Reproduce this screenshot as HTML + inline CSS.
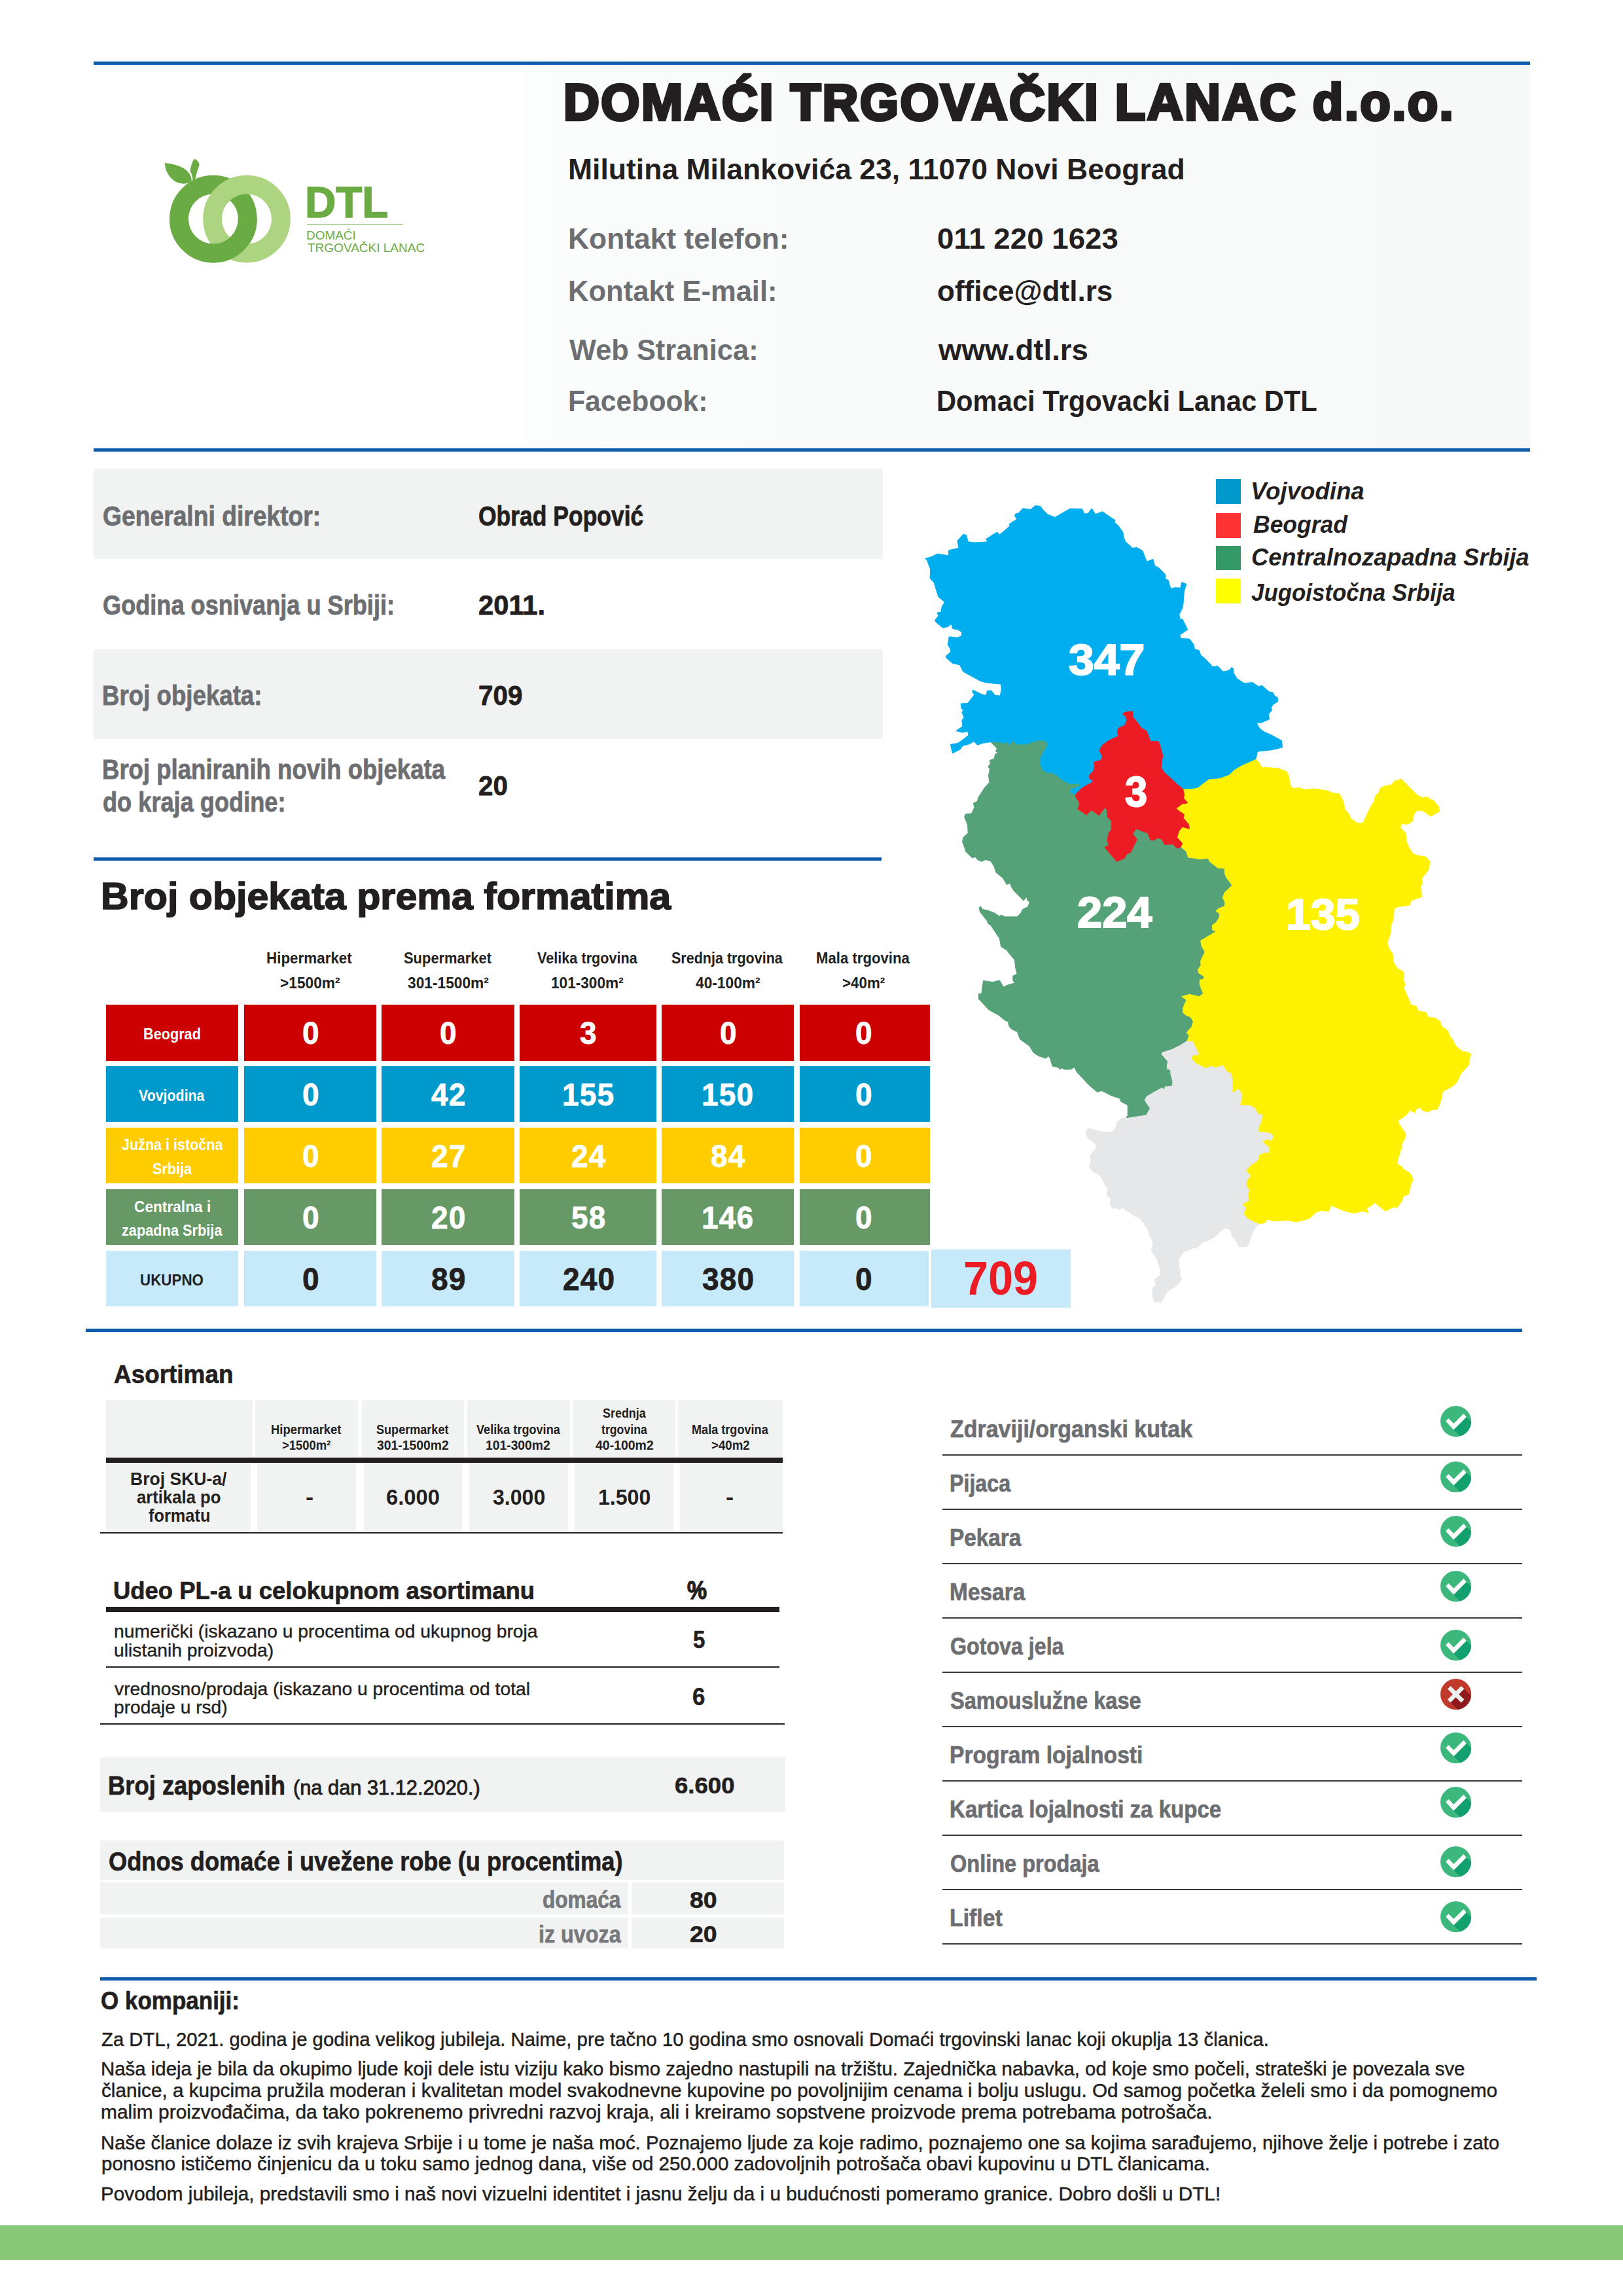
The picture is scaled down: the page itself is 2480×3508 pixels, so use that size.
<!DOCTYPE html>
<html lang="sr"><head><meta charset="utf-8"><title>Domaći trgovački lanac d.o.o.</title>
<style>
html,body{margin:0;padding:0;background:#fff}
#page{position:relative;width:2480px;height:3508px;overflow:hidden;background:#fff;font-family:"Liberation Sans",Arial,sans-serif}
.b{position:absolute}
.t{position:absolute;white-space:pre;line-height:1;transform-origin:0 0;font-kerning:normal}
svg{position:absolute;overflow:visible}
</style></head>
<body><div id="page">
<div class="b" style="left:143.0px;top:94.0px;width:2195.0px;height:5.0px;background:#0b5cab;"></div>
<div class="b" style="left:803.0px;top:99.0px;width:1535.0px;height:586.0px;background:linear-gradient(90deg,#fcfdfd 0%,#fafbfb 10%,#f7f8f8 100%);"></div>
<div class="b" style="left:143.0px;top:685.0px;width:2195.0px;height:5.0px;background:#0b5cab;"></div>
<div class="b" style="left:469.0px;top:341.5px;width:147.0px;height:1.7px;background:#6aab43;"></div>
<div class="b" style="left:143.0px;top:716.0px;width:1206.3px;height:138.0px;background:#f1f2f2;"></div>
<div class="b" style="left:143.0px;top:991.5px;width:1206.3px;height:137.8px;background:#f1f2f2;"></div>
<div class="b" style="left:143.0px;top:1310.0px;width:1204.0px;height:5.0px;background:#0b5cab;"></div>
<div class="b" style="left:162.0px;top:1535.2px;width:202.0px;height:85.4px;background:#cc0000;"></div>
<div class="b" style="left:373.0px;top:1535.2px;width:202.0px;height:85.4px;background:#cc0000;"></div>
<div class="b" style="left:583.0px;top:1535.2px;width:203.0px;height:85.4px;background:#cc0000;"></div>
<div class="b" style="left:794.0px;top:1535.2px;width:209.0px;height:85.4px;background:#cc0000;"></div>
<div class="b" style="left:1011.0px;top:1535.2px;width:202.0px;height:85.4px;background:#cc0000;"></div>
<div class="b" style="left:1222.0px;top:1535.2px;width:199.0px;height:85.4px;background:#cc0000;"></div>
<div class="b" style="left:162.0px;top:1629.2px;width:202.0px;height:84.8px;background:#0099cc;"></div>
<div class="b" style="left:373.0px;top:1629.2px;width:202.0px;height:84.8px;background:#0099cc;"></div>
<div class="b" style="left:583.0px;top:1629.2px;width:203.0px;height:84.8px;background:#0099cc;"></div>
<div class="b" style="left:794.0px;top:1629.2px;width:209.0px;height:84.8px;background:#0099cc;"></div>
<div class="b" style="left:1011.0px;top:1629.2px;width:202.0px;height:84.8px;background:#0099cc;"></div>
<div class="b" style="left:1222.0px;top:1629.2px;width:199.0px;height:84.8px;background:#0099cc;"></div>
<div class="b" style="left:162.0px;top:1723.2px;width:202.0px;height:84.9px;background:#ffcc00;"></div>
<div class="b" style="left:373.0px;top:1723.2px;width:202.0px;height:84.9px;background:#ffcc00;"></div>
<div class="b" style="left:583.0px;top:1723.2px;width:203.0px;height:84.9px;background:#ffcc00;"></div>
<div class="b" style="left:794.0px;top:1723.2px;width:209.0px;height:84.9px;background:#ffcc00;"></div>
<div class="b" style="left:1011.0px;top:1723.2px;width:202.0px;height:84.9px;background:#ffcc00;"></div>
<div class="b" style="left:1222.0px;top:1723.2px;width:199.0px;height:84.9px;background:#ffcc00;"></div>
<div class="b" style="left:162.0px;top:1817.2px;width:202.0px;height:84.9px;background:#669966;"></div>
<div class="b" style="left:373.0px;top:1817.2px;width:202.0px;height:84.9px;background:#669966;"></div>
<div class="b" style="left:583.0px;top:1817.2px;width:203.0px;height:84.9px;background:#669966;"></div>
<div class="b" style="left:794.0px;top:1817.2px;width:209.0px;height:84.9px;background:#669966;"></div>
<div class="b" style="left:1011.0px;top:1817.2px;width:202.0px;height:84.9px;background:#669966;"></div>
<div class="b" style="left:1222.0px;top:1817.2px;width:199.0px;height:84.9px;background:#669966;"></div>
<div class="b" style="left:162.0px;top:1911.2px;width:202.0px;height:84.9px;background:#c7eafb;"></div>
<div class="b" style="left:373.0px;top:1911.2px;width:202.0px;height:84.9px;background:#c7eafb;"></div>
<div class="b" style="left:583.0px;top:1911.2px;width:203.0px;height:84.9px;background:#c7eafb;"></div>
<div class="b" style="left:794.0px;top:1911.2px;width:209.0px;height:84.9px;background:#c7eafb;"></div>
<div class="b" style="left:1011.0px;top:1911.2px;width:202.0px;height:84.9px;background:#c7eafb;"></div>
<div class="b" style="left:1222.0px;top:1911.2px;width:197.0px;height:84.9px;background:#c7eafb;"></div>
<div class="b" style="left:1423.4px;top:1908.7px;width:213.1px;height:89.3px;background:#c7eafb;"></div>
<div class="b" style="left:131.0px;top:2030.0px;width:2194.5px;height:5.0px;background:#0b5cab;"></div>
<div class="b" style="left:1858.0px;top:732.0px;width:37.6px;height:38.0px;background:#0099cc;"></div>
<div class="b" style="left:1858.0px;top:784.4px;width:37.6px;height:37.4px;background:#ff3333;"></div>
<div class="b" style="left:1858.0px;top:833.7px;width:37.6px;height:37.5px;background:#339966;"></div>
<div class="b" style="left:1858.0px;top:884.2px;width:37.6px;height:37.4px;background:#ffff00;"></div>
<div class="b" style="left:162.0px;top:2138.6px;width:223.5px;height:87.9px;background:#f1f2f2;"></div>
<div class="b" style="left:162.0px;top:2234.5px;width:220.5px;height:105.1px;background:#f1f2f2;"></div>
<div class="b" style="left:390.2px;top:2138.6px;width:157.0px;height:87.9px;background:#f1f2f2;"></div>
<div class="b" style="left:393.2px;top:2234.5px;width:151.0px;height:105.1px;background:#f1f2f2;"></div>
<div class="b" style="left:552.6px;top:2138.6px;width:156.4px;height:87.9px;background:#f1f2f2;"></div>
<div class="b" style="left:555.6px;top:2234.5px;width:150.4px;height:105.1px;background:#f1f2f2;"></div>
<div class="b" style="left:713.6px;top:2138.6px;width:157.0px;height:87.9px;background:#f1f2f2;"></div>
<div class="b" style="left:716.6px;top:2234.5px;width:151.0px;height:105.1px;background:#f1f2f2;"></div>
<div class="b" style="left:875.3px;top:2138.6px;width:156.4px;height:87.9px;background:#f1f2f2;"></div>
<div class="b" style="left:878.3px;top:2234.5px;width:150.4px;height:105.1px;background:#f1f2f2;"></div>
<div class="b" style="left:1036.3px;top:2138.6px;width:159.7px;height:87.9px;background:#f1f2f2;"></div>
<div class="b" style="left:1039.3px;top:2234.5px;width:156.7px;height:105.1px;background:#f1f2f2;"></div>
<div class="b" style="left:162.0px;top:2226.5px;width:1034.0px;height:8.0px;background:#231f20;"></div>
<div class="b" style="left:153.3px;top:2340.6px;width:1042.7px;height:2.0px;background:#231f20;"></div>
<div class="b" style="left:162.0px;top:2455.4px;width:1029.4px;height:8.0px;background:#231f20;"></div>
<div class="b" style="left:162.0px;top:2546.0px;width:1029.4px;height:2.0px;background:#231f20;"></div>
<div class="b" style="left:153.3px;top:2633.2px;width:1046.0px;height:2.0px;background:#231f20;"></div>
<div class="b" style="left:153.3px;top:2684.6px;width:1046.7px;height:83.2px;background:#f1f2f2;"></div>
<div class="b" style="left:153.3px;top:2811.7px;width:1044.5px;height:59.9px;background:#f1f2f2;"></div>
<div class="b" style="left:153.3px;top:2876.3px;width:806.5px;height:48.5px;background:#f1f2f2;"></div>
<div class="b" style="left:964.5px;top:2876.3px;width:233.3px;height:48.5px;background:#f1f2f2;"></div>
<div class="b" style="left:153.3px;top:2929.5px;width:806.5px;height:47.9px;background:#f1f2f2;"></div>
<div class="b" style="left:964.5px;top:2929.5px;width:233.3px;height:47.9px;background:#f1f2f2;"></div>
<div class="b" style="left:1439.6px;top:2221.7px;width:886.0px;height:2.0px;background:#3a3739;"></div>
<div class="b" style="left:1439.6px;top:2304.7px;width:886.0px;height:2.0px;background:#3a3739;"></div>
<div class="b" style="left:1439.6px;top:2387.7px;width:886.0px;height:2.0px;background:#3a3739;"></div>
<div class="b" style="left:1439.6px;top:2470.7px;width:886.0px;height:2.0px;background:#3a3739;"></div>
<div class="b" style="left:1439.6px;top:2553.7px;width:886.0px;height:2.0px;background:#3a3739;"></div>
<div class="b" style="left:1439.6px;top:2636.7px;width:886.0px;height:2.0px;background:#3a3739;"></div>
<div class="b" style="left:1439.6px;top:2719.7px;width:886.0px;height:2.0px;background:#3a3739;"></div>
<div class="b" style="left:1439.6px;top:2802.7px;width:886.0px;height:2.0px;background:#3a3739;"></div>
<div class="b" style="left:1439.6px;top:2885.7px;width:886.0px;height:2.0px;background:#3a3739;"></div>
<div class="b" style="left:1439.6px;top:2968.7px;width:886.0px;height:2.0px;background:#3a3739;"></div>
<div class="b" style="left:153.0px;top:3020.7px;width:2194.6px;height:5.2px;background:#0b5cab;"></div>
<div class="b" style="left:0.0px;top:3400.0px;width:2480.0px;height:53.2px;background:#88c878;"></div>
<svg style="left:0;top:0" width="800" height="500" viewBox="0 0 800 500"><defs><clipPath id="lowhalf"><rect x="200" y="334.6" width="300" height="120"/></clipPath></defs><circle cx="325.9" cy="334.6" r="52.4" fill="none" stroke="#6aab43" stroke-width="28.8"/><circle cx="377.0" cy="334.6" r="52.4" fill="none" stroke="#add581" stroke-width="28.8"/><circle cx="325.9" cy="334.6" r="52.4" fill="none" stroke="#6aab43" stroke-width="28.8" clip-path="url(#lowhalf)"/><path d="M251.71,249.05 C269.57,250.40 291.76,257.18 292.87,275.97 L292.37,276.59 C278.20,287.99 253.56,275.67 251.71,249.05 Z" fill="#6aab43"/><path d="M290.52,261.49 C291.45,254.72 293.60,247.32 296.38,243.01 C299.15,242.39 304.08,247.32 304.70,251.33 C303.46,256.57 299.77,264.57 298.53,272.89 L294.53,276.16 C294.53,270.74 292.99,265.19 290.52,261.49 Z" fill="#6aab43"/></svg>
<svg style="left:1400px;top:760px" width="900" height="1260" viewBox="0 0 900 1260"><polygon points="524.7,1109.1 517.1,1117.3 513.3,1124.0 508.4,1139.8 505.1,1144.4 500.3,1145.2 492.1,1143.8 488.1,1134.9 482.6,1128.9 480.7,1120.8 477.2,1117.3 471.8,1116.7 464.5,1121.3 460.1,1126.8 447.4,1134.9 437.4,1138.1 429.2,1146.5 422.2,1147.1 417.6,1149.8 408.6,1152.5 400.8,1165.2 401.3,1176.9 404.0,1183.7 402.7,1188.6 405.9,1195.1 397.2,1204.8 383.7,1213.5 374.2,1229.8 370.1,1228.4 364.2,1229.8 361.2,1218.9 361.2,1207.5 366.9,1204.8 364.2,1195.1 372.3,1188.6 373.4,1179.6 371.5,1175.6 367.4,1162.0 362.5,1156.6 359.3,1149.8 362.0,1140.3 360.6,1134.9 357.1,1129.5 353.3,1116.5 349.8,1113.2 347.1,1107.8 340.3,1100.2 330.0,1096.4 328.1,1092.9 320.0,1089.3 315.4,1084.7 309.9,1088.3 306.4,1085.5 299.6,1086.1 296.4,1079.3 297.5,1071.2 291.0,1065.8 292.9,1056.3 287.4,1048.1 283.4,1040.0 281.9,1036.5 268.4,1028.4 264.3,1022.4 267.0,1014.8 266.2,1005.3 276.0,992.6 271.1,985.0 261.6,978.2 258.9,970.1 262.4,963.9 284.7,969.3 299.6,970.1 306.3,960.6 306.9,953.8 314.5,948.4 321.3,947.6 321.3,947.6 351.1,943.0 356.5,933.5 348.4,921.3 351.1,915.1 363.3,907.8 375.5,901.0 378.2,903.7 379.5,899.6 390.4,898.3 390.9,892.3 387.7,879.3 387.7,875.2 382.8,873.9 382.3,868.4 383.6,861.7 374.1,850.8 375.5,847.3 390.4,842.7 403.9,835.9 413.4,829.9 413.4,829.9 422.9,830.5 428.3,841.3 433.0,850.8 430.8,852.2 422.7,853.5 421.4,857.6 428.1,864.4 441.7,871.2 450.4,868.4 458.0,870.6 468.8,867.1 475.6,877.1 482.4,879.3 483.7,890.1 484.5,908.6 491.8,903.1 495.9,906.4 499.2,914.0 495.9,928.1 509.5,928.1 517.6,932.2 523.0,941.1 529.8,943.0 528.4,952.5 524.4,962.0 524.4,968.7 539.3,970.1 546.9,974.7 543.4,983.7 539.3,981.8 533.9,982.3 529.8,983.7 539.8,993.1 539.8,1001.3 531.2,1001.8 524.4,1005.3 523.0,1012.1 517.6,1017.5 513.5,1018.9 504.6,1028.4 511.6,1036.5 505.4,1044.7 505.4,1052.8 510.0,1058.2 507.3,1063.6 509.5,1074.5 499.2,1079.9 504.6,1085.3 501.3,1094.8 506.8,1101.6 524.4,1109.7" fill="#e6e7e8" stroke="#e6e7e8" stroke-width="1" stroke-linejoin="round"/>
<polygon points="519.0,399.5 524.4,405.8 527.9,412.5 542.0,413.1 552.8,413.9 565.0,418.0 569.1,424.7 571.3,438.3 574.5,444.5 585.4,443.7 593.5,446.4 609.8,445.1 628.7,448.3 636.9,451.8 646.4,452.7 652.6,464.0 655.3,477.6 660.7,482.5 664.0,490.6 674.8,497.9 683.0,497.1 693.8,473.5 699.2,465.4 701.9,455.4 706.8,451.8 708.7,445.1 715.5,441.0 726.3,439.1 730.4,433.7 741.3,430.2 764.3,453.7 772.4,458.6 781.9,457.8 784.6,461.3 790.1,462.7 798.2,472.2 799.5,479.8 786.5,487.1 772.4,478.1 764.3,479.0 760.2,484.4 758.9,494.4 751.3,499.3 741.3,498.7 739.9,504.7 748.0,512.8 748.6,523.7 752.1,533.2 758.9,544.0 764.3,546.7 779.2,549.4 784.6,556.2 783.3,568.4 779.2,573.8 772.4,582.0 773.8,588.7 771.1,594.2 772.4,610.4 764.3,613.1 756.2,615.9 754.8,622.6 737.2,625.3 730.4,628.1 729.1,645.7 726.3,649.7 725.0,664.7 719.6,680.9 723.6,691.8 727.7,695.8 729.1,709.4 734.5,718.9 744.0,724.3 745.3,732.4 744.0,735.1 746.7,743.3 745.3,750.1 756.2,775.3 764.3,777.6 767.0,784.4 779.2,787.1 781.9,793.9 792.8,795.2 800.9,800.7 802.3,807.4 811.7,814.2 815.8,823.7 819.9,829.1 823.9,837.3 834.8,846.8 839.7,846.8 848.3,850.8 845.6,856.2 844.3,867.1 832.1,880.6 826.7,892.8 819.9,899.6 804.4,907.8 802.8,917.2 800.9,924.0 796.3,934.9 787.3,935.7 782.7,938.9 773.8,936.8 769.7,932.2 763.8,934.9 762.1,940.3 754.8,936.2 749.4,943.0 742.6,948.4 736.6,951.1 736.6,955.2 741.3,962.0 748.0,972.8 746.7,979.6 741.3,989.1 742.6,991.8 739.9,998.6 735.8,1012.1 735.0,1018.9 741.3,1021.6 745.3,1027.0 754.8,1032.5 759.4,1041.9 756.2,1048.7 752.1,1065.0 744.0,1067.7 742.6,1074.5 738.5,1079.9 734.5,1085.3 730.4,1084.0 716.9,1090.2 700.6,1077.7 695.2,1082.6 688.4,1085.3 690.6,1092.9 683.0,1090.2 669.4,1093.5 655.9,1090.7 634.2,1082.1 630.1,1090.7 619.3,1089.4 611.1,1092.1 600.3,1102.1 580.0,1107.0 567.8,1104.3 547.4,1105.7 536.6,1102.9 532.5,1108.4 524.4,1109.7 524.4,1109.7 506.8,1101.6 501.3,1094.8 504.6,1085.3 499.2,1079.9 509.5,1074.5 507.3,1063.6 510.0,1058.2 505.4,1052.8 505.4,1044.7 511.6,1036.5 504.6,1028.4 513.5,1018.9 517.6,1017.5 523.0,1012.1 524.4,1005.3 531.2,1001.8 539.8,1001.3 539.8,993.1 529.8,983.7 533.9,982.3 539.3,981.8 543.4,983.7 546.9,974.7 539.3,970.1 524.4,968.7 524.4,962.0 528.4,952.5 529.8,943.0 523.0,941.1 517.6,932.2 509.5,928.1 495.9,928.1 499.2,914.0 495.9,906.4 491.8,903.1 484.5,908.6 483.7,890.1 482.4,879.3 475.6,877.1 468.8,867.1 458.0,870.6 450.4,868.4 441.7,871.2 428.1,864.4 421.4,857.6 422.7,853.5 430.8,852.2 433.0,850.8 428.3,841.3 422.9,830.5 413.4,829.9 413.4,829.9 416.1,821.8 412.1,817.5 420.2,808.8 422.4,800.7 418.9,794.7 412.1,792.0 406.7,787.1 406.7,780.3 409.4,773.6 412.1,768.1 403.9,762.3 417.5,758.2 432.2,761.7 437.6,758.2 434.9,751.4 432.2,743.3 432.2,736.5 438.4,735.1 439.0,732.4 430.8,727.0 429.5,721.6 434.1,714.8 433.6,708.0 440.3,694.5 434.9,685.0 433.6,676.9 456.6,663.3 452.0,661.9 451.2,653.8 458.0,648.4 462.0,641.6 462.8,636.2 456.6,632.1 462.0,627.2 470.2,624.0 471.0,618.6 467.4,611.8 470.2,603.7 481.8,592.8 472.9,580.6 470.2,573.8 470.2,567.6 460.7,567.1 447.1,556.2 445.8,552.2 433.8,553.5 414.8,550.8 412.1,541.3 403.9,534.5 403.9,534.5 406.7,528.6 398.5,519.6 401.2,510.1 406.7,503.4 417.5,506.1 416.1,499.3 408.0,489.8 409.4,484.4 401.2,479.0 397.2,474.9 406.7,468.1 414.8,466.8 408.8,460.0 409.4,453.2 407.5,445.1 407.5,445.1 420.0,445.1 430.8,442.9 436.3,438.3 447.1,430.2 463.4,428.8 478.3,423.4 485.1,416.6 495.9,409.8 519.0,399.5" fill="#fff200" stroke="#fff200" stroke-width="1" stroke-linejoin="round"/>
<polygon points="113.9,373.6 127.4,373.6 132.8,375.5 138.3,373.6 142.3,377.4 148.6,371.4 152.4,376.8 168.1,376.8 184.3,371.4 195.2,370.9 201.2,375.5 200.6,379.5 193.8,390.8 189.8,399.0 189.8,407.1 193.8,416.6 200.6,420.1 208.7,420.7 216.9,426.1 225.0,432.9 235.9,437.5 249.4,436.9 250.8,441.0 235.9,446.4 235.3,450.5 243.5,453.7 243.5,453.7 244.0,458.6 248.1,464.0 249.4,469.5 246.7,476.2 253.5,480.3 260.3,485.2 267.0,478.1 271.1,479.8 279.2,485.7 288.7,473.5 291.4,477.6 292.2,488.4 298.2,493.9 298.2,507.4 294.1,512.8 292.2,523.7 294.1,531.8 287.9,534.5 306.3,556.2 318.5,551.3 321.3,545.4 328.0,542.1 332.1,533.2 337.5,522.3 330.7,514.2 336.2,506.1 345.7,510.1 353.8,512.8 357.9,523.7 363.3,523.7 368.7,520.4 375.5,522.3 379.5,530.5 391.7,529.6 398.5,535.9 403.9,534.5 403.9,534.5 412.1,541.3 414.8,550.8 433.8,553.5 445.8,552.2 447.1,556.2 460.7,567.1 470.2,567.6 470.2,573.8 472.9,580.6 481.8,592.8 470.2,603.7 467.4,611.8 471.0,618.6 470.2,624.0 462.0,627.2 456.6,632.1 462.8,636.2 462.0,641.6 458.0,648.4 451.2,653.8 452.0,661.9 456.6,663.3 433.6,676.9 434.9,685.0 440.3,694.5 433.6,708.0 434.1,714.8 429.5,721.6 430.8,727.0 439.0,732.4 438.4,735.1 432.2,736.5 432.2,743.3 434.9,751.4 437.6,758.2 432.2,761.7 417.5,758.2 403.9,762.3 412.1,768.1 409.4,773.6 406.7,780.3 406.7,787.1 412.1,792.0 418.9,794.7 422.4,800.7 420.2,808.8 412.1,817.5 416.1,821.8 413.4,829.9 413.4,829.9 403.9,835.9 390.4,842.7 375.5,847.3 374.1,850.8 383.6,861.7 382.3,868.4 382.8,873.9 387.7,875.2 387.7,879.3 390.9,892.3 390.4,898.3 379.5,899.6 378.2,903.7 375.5,901.0 363.3,907.8 351.1,915.1 348.4,921.3 356.5,933.5 351.1,943.0 321.3,947.6 321.3,947.6 323.2,944.3 323.2,928.6 312.3,922.7 311.8,918.6 298.2,914.0 283.3,906.4 276.5,908.6 263.0,896.9 245.3,877.9 241.8,870.6 235.9,873.9 226.4,873.9 222.3,871.7 219.6,873.9 216.3,870.6 208.2,869.0 204.7,857.1 202.0,853.5 197.9,857.1 187.1,853.5 178.9,848.1 173.5,838.6 158.6,827.8 154.5,816.4 146.4,812.9 142.3,808.8 140.4,801.2 134.2,798.0 126.1,791.2 111.2,783.0 95.4,766.3 95.4,758.2 99.8,758.2 102.5,738.4 116.6,740.6 127.4,737.9 133.4,747.9 141.0,744.6 150.5,741.9 147.8,737.9 147.8,731.1 154.0,728.4 151.8,718.9 150.5,706.7 142.3,697.2 138.3,691.8 129.6,686.3 127.4,674.1 119.3,661.9 113.9,653.8 109.8,651.1 108.4,647.0 97.6,633.5 96.2,626.7 98.1,624.5 101.7,629.4 108.4,630.8 119.3,634.8 126.9,639.7 130.1,638.1 135.6,640.8 154.5,640.8 160.0,634.8 162.7,629.4 170.8,625.3 173.5,618.0 170.3,616.4 168.6,610.4 164.0,615.9 155.9,607.7 149.1,600.9 145.0,594.2 143.7,589.3 138.3,591.5 132.8,582.0 121.5,572.5 119.3,564.3 113.9,555.7 105.7,553.5 99.8,556.2 93.5,553.5 90.8,549.4 85.4,550.8 75.9,541.3 72.7,531.8 70.5,526.4 71.8,519.6 79.2,512.8 78.6,500.6 73.7,488.4 75.4,483.8 84.6,483.0 88.9,473.5 87.3,467.3 93.5,464.0 94.9,458.6 104.4,443.7 111.7,435.6 110.6,424.7 112.5,415.2 109.8,411.2 113.3,407.1 112.5,401.7 119.3,399.0 120.6,392.2 125.2,390.4 121.5,387.7 123.4,383.6 113.9,373.6" fill="#55a278" stroke="#55a278" stroke-width="1" stroke-linejoin="round"/>
<polygon points="113.9,373.6 101.7,375.5 93.5,378.2 88.1,372.8 81.3,376.8 71.0,379.5 67.2,385.0 55.6,390.9 52.3,377.4 63.7,375.5 73.2,368.7 80.0,363.3 78.6,357.3 70.5,359.2 61.0,356.5 71.0,349.7 69.9,340.2 73.2,336.2 69.9,328.8 71.8,324.8 69.1,322.6 68.3,315.0 78.6,314.5 88.9,301.5 86.2,298.2 86.2,294.1 100.3,300.9 107.1,302.3 108.4,295.5 114.7,295.0 120.6,302.3 128.2,303.1 130.1,294.1 129.6,285.2 108.4,283.3 98.1,280.6 71.8,266.2 66.4,255.7 55.6,253.5 46.1,245.3 45.5,242.1 51.5,237.2 52.9,233.1 48.3,225.0 50.2,212.8 62.4,214.2 69.1,212.0 69.9,206.0 63.7,202.0 55.6,200.6 53.7,193.3 48.8,197.4 40.7,199.3 29.8,190.3 29.0,187.1 33.9,181.1 32.0,176.2 38.0,174.9 39.3,166.7 43.4,160.0 33.9,151.8 27.1,130.1 21.1,123.4 21.7,109.8 16.3,95.4 13.6,93.5 23.0,90.8 32.5,86.2 49.6,88.9 49.6,80.8 65.1,77.3 62.9,66.4 71.8,56.4 76.7,57.5 79.2,67.8 89.5,69.1 109.3,67.8 106.5,63.7 123.4,52.9 127.4,56.9 135.6,50.2 143.1,43.4 142.3,40.7 154.0,33.1 150.5,28.5 151.8,24.9 156.7,23.9 162.7,16.8 174.9,18.4 182.2,12.5 189.8,13.6 193.8,19.0 200.6,25.8 212.0,30.4 222.3,24.4 235.3,17.1 253.5,17.6 257.0,25.2 262.4,24.4 268.4,16.8 273.8,25.8 284.7,21.7 298.2,31.2 304.2,34.7 303.1,38.0 309.1,43.4 315.8,52.9 317.2,61.0 319.9,67.8 330.7,77.3 337.5,76.5 345.7,81.3 352.4,98.1 361.9,94.3 364.6,104.4 370.1,107.1 380.9,117.9 380.9,125.2 385.0,126.1 389.0,139.6 395.8,137.7 403.9,138.3 405.8,129.6 412.9,132.3 409.4,143.7 408.0,162.7 406.7,169.4 401.8,178.9 403.1,186.5 406.7,185.7 414.8,202.0 403.1,210.1 403.9,215.5 417.5,216.1 420.0,219.1 424.1,225.0 425.4,231.8 432.2,233.7 434.9,241.3 440.3,245.3 449.8,254.8 452.5,258.9 460.7,257.5 468.8,266.2 478.3,264.3 481.8,259.7 484.5,261.6 485.1,268.4 489.9,276.5 501.3,284.1 513.5,282.5 523.0,288.7 528.4,287.4 539.3,296.9 545.2,298.2 547.4,303.1 552.8,306.3 552.8,311.8 545.2,316.6 542.5,321.3 543.4,325.3 538.7,330.7 539.3,338.9 528.4,343.8 520.3,344.8 524.4,352.4 531.2,357.9 540.6,361.9 558.3,371.4 559.6,381.7 550.1,384.4 539.3,386.3 521.7,388.2 519.0,399.5 519.0,399.5 495.9,409.8 485.1,416.6 478.3,423.4 463.4,428.8 447.1,430.2 436.3,438.3 430.8,442.9 420.0,445.1 407.5,445.1 407.5,445.1 398.5,438.3 390.4,430.2 379.5,420.7 374.1,412.5 375.5,401.7 376.8,394.9 372.8,379.5 370.1,372.8 357.9,372.8 352.4,357.3 344.3,352.4 337.5,342.9 331.3,336.2 330.2,326.7 319.9,328.0 315.3,330.7 320.4,334.8 321.8,341.0 318.5,348.4 309.1,352.4 307.2,357.9 309.1,364.6 294.1,371.4 284.7,378.2 280.0,386.3 280.6,388.1 284.7,396.3 281.9,401.7 271.1,404.4 272.5,409.8 271.1,418.0 265.1,423.4 264.3,428.8 271.1,434.2 253.5,443.7 243.5,453.7 243.5,453.7 235.3,450.5 235.9,446.4 250.8,441.0 249.4,436.9 235.9,437.5 225.0,432.9 216.9,426.1 208.7,420.7 200.6,420.1 193.8,416.6 189.8,407.1 189.8,399.0 193.8,390.8 200.6,379.5 201.2,375.5 195.2,370.9 184.3,371.4 168.1,376.8 152.4,376.8 148.6,371.4 142.3,377.4 138.3,373.6 132.8,375.5 127.4,373.6 113.9,373.6" fill="#00aeef" stroke="#00aeef" stroke-width="1" stroke-linejoin="round"/>
<polygon points="243.5,453.7 253.5,443.7 271.1,434.2 264.3,428.8 265.1,423.4 271.1,418.0 272.5,409.8 271.1,404.4 281.9,401.7 284.7,396.3 280.6,388.1 280.0,386.3 284.7,378.2 294.1,371.4 309.1,364.6 307.2,357.9 309.1,352.4 318.5,348.4 321.8,341.0 320.4,334.8 315.3,330.7 319.9,328.0 330.2,326.7 331.3,336.2 337.5,342.9 344.3,352.4 352.4,357.3 357.9,372.8 370.1,372.8 372.8,379.5 376.8,394.9 375.5,401.7 374.1,412.5 379.5,420.7 390.4,430.2 398.5,438.3 407.5,445.1 407.5,445.1 409.4,453.2 408.8,460.0 414.8,466.8 406.7,468.1 397.2,474.9 401.2,479.0 409.4,484.4 408.0,489.8 416.1,499.3 417.5,506.1 406.7,503.4 401.2,510.1 398.5,519.6 406.7,528.6 403.9,534.5 403.9,534.5 398.5,535.9 391.7,529.6 379.5,530.5 375.5,522.3 368.7,520.4 363.3,523.7 357.9,523.7 353.8,512.8 345.7,510.1 336.2,506.1 330.7,514.2 337.5,522.3 332.1,533.2 328.0,542.1 321.3,545.4 318.5,551.3 306.3,556.2 287.9,534.5 294.1,531.8 292.2,523.7 294.1,512.8 298.2,507.4 298.2,493.9 292.2,488.4 291.4,477.6 288.7,473.5 279.2,485.7 271.1,479.8 267.0,478.1 260.3,485.2 253.5,480.3 246.7,476.2 249.4,469.5 248.1,464.0 244.0,458.6 243.5,453.7" fill="#ed1c24" stroke="#ed1c24" stroke-width="1" stroke-linejoin="round"/></svg>
<svg style="left:2200.9px;top:2147.9px" width="47.2" height="47.2" viewBox="0 0 1 1"><defs><clipPath id="c2171"><circle cx="0.5" cy="0.5" r="0.5"/></clipPath></defs><circle cx="0.5" cy="0.5" r="0.5" fill="#3cb87c"/><g clip-path="url(#c2171)"><polygon points="0.429,0.774 0.842,0.36 1.3,0.82 0.9,1.25" fill="#13a06f"/><polygon points="0.171,0.5 0.263,0.4 0.429,0.571 0.75,0.255 0.842,0.36 0.429,0.774" fill="#fff"/></g></svg>
<svg style="left:2200.9px;top:2233.4px" width="47.2" height="47.2" viewBox="0 0 1 1"><defs><clipPath id="c2257"><circle cx="0.5" cy="0.5" r="0.5"/></clipPath></defs><circle cx="0.5" cy="0.5" r="0.5" fill="#3cb87c"/><g clip-path="url(#c2257)"><polygon points="0.429,0.774 0.842,0.36 1.3,0.82 0.9,1.25" fill="#13a06f"/><polygon points="0.171,0.5 0.263,0.4 0.429,0.571 0.75,0.255 0.842,0.36 0.429,0.774" fill="#fff"/></g></svg>
<svg style="left:2200.9px;top:2316.3px" width="47.2" height="47.2" viewBox="0 0 1 1"><defs><clipPath id="c2339"><circle cx="0.5" cy="0.5" r="0.5"/></clipPath></defs><circle cx="0.5" cy="0.5" r="0.5" fill="#3cb87c"/><g clip-path="url(#c2339)"><polygon points="0.429,0.774 0.842,0.36 1.3,0.82 0.9,1.25" fill="#13a06f"/><polygon points="0.171,0.5 0.263,0.4 0.429,0.571 0.75,0.255 0.842,0.36 0.429,0.774" fill="#fff"/></g></svg>
<svg style="left:2200.9px;top:2399.7px" width="47.2" height="47.2" viewBox="0 0 1 1"><defs><clipPath id="c2423"><circle cx="0.5" cy="0.5" r="0.5"/></clipPath></defs><circle cx="0.5" cy="0.5" r="0.5" fill="#3cb87c"/><g clip-path="url(#c2423)"><polygon points="0.429,0.774 0.842,0.36 1.3,0.82 0.9,1.25" fill="#13a06f"/><polygon points="0.171,0.5 0.263,0.4 0.429,0.571 0.75,0.255 0.842,0.36 0.429,0.774" fill="#fff"/></g></svg>
<svg style="left:2200.9px;top:2489.8px" width="47.2" height="47.2" viewBox="0 0 1 1"><defs><clipPath id="c2513"><circle cx="0.5" cy="0.5" r="0.5"/></clipPath></defs><circle cx="0.5" cy="0.5" r="0.5" fill="#3cb87c"/><g clip-path="url(#c2513)"><polygon points="0.429,0.774 0.842,0.36 1.3,0.82 0.9,1.25" fill="#13a06f"/><polygon points="0.171,0.5 0.263,0.4 0.429,0.571 0.75,0.255 0.842,0.36 0.429,0.774" fill="#fff"/></g></svg>
<svg style="left:2200.9px;top:2565.4px" width="47.2" height="47.2" viewBox="0 0 1 1"><defs><clipPath id="c2589"><circle cx="0.5" cy="0.5" r="0.5"/></clipPath></defs><circle cx="0.5" cy="0.5" r="0.5" fill="#c0392b"/><g clip-path="url(#c2589)"><polygon points="0.5,0.6 0.67,0.77 0.77,0.67 0.6,0.5 0.77,0.33 1.3,0.86 0.86,1.3 0.33,0.77" fill="#8f1a1d"/><path d="M0.28,0.28 L0.72,0.72 M0.72,0.28 L0.28,0.72" stroke="#ecf0f1" stroke-width="0.14" fill="none"/></g></svg>
<svg style="left:2200.9px;top:2647.0px" width="47.2" height="47.2" viewBox="0 0 1 1"><defs><clipPath id="c2670"><circle cx="0.5" cy="0.5" r="0.5"/></clipPath></defs><circle cx="0.5" cy="0.5" r="0.5" fill="#3cb87c"/><g clip-path="url(#c2670)"><polygon points="0.429,0.774 0.842,0.36 1.3,0.82 0.9,1.25" fill="#13a06f"/><polygon points="0.171,0.5 0.263,0.4 0.429,0.571 0.75,0.255 0.842,0.36 0.429,0.774" fill="#fff"/></g></svg>
<svg style="left:2200.9px;top:2729.7px" width="47.2" height="47.2" viewBox="0 0 1 1"><defs><clipPath id="c2753"><circle cx="0.5" cy="0.5" r="0.5"/></clipPath></defs><circle cx="0.5" cy="0.5" r="0.5" fill="#3cb87c"/><g clip-path="url(#c2753)"><polygon points="0.429,0.774 0.842,0.36 1.3,0.82 0.9,1.25" fill="#13a06f"/><polygon points="0.171,0.5 0.263,0.4 0.429,0.571 0.75,0.255 0.842,0.36 0.429,0.774" fill="#fff"/></g></svg>
<svg style="left:2200.9px;top:2821.2px" width="47.2" height="47.2" viewBox="0 0 1 1"><defs><clipPath id="c2844"><circle cx="0.5" cy="0.5" r="0.5"/></clipPath></defs><circle cx="0.5" cy="0.5" r="0.5" fill="#3cb87c"/><g clip-path="url(#c2844)"><polygon points="0.429,0.774 0.842,0.36 1.3,0.82 0.9,1.25" fill="#13a06f"/><polygon points="0.171,0.5 0.263,0.4 0.429,0.571 0.75,0.255 0.842,0.36 0.429,0.774" fill="#fff"/></g></svg>
<svg style="left:2200.9px;top:2904.6px" width="47.2" height="47.2" viewBox="0 0 1 1"><defs><clipPath id="c2928"><circle cx="0.5" cy="0.5" r="0.5"/></clipPath></defs><circle cx="0.5" cy="0.5" r="0.5" fill="#3cb87c"/><g clip-path="url(#c2928)"><polygon points="0.429,0.774 0.842,0.36 1.3,0.82 0.9,1.25" fill="#13a06f"/><polygon points="0.171,0.5 0.263,0.4 0.429,0.571 0.75,0.255 0.842,0.36 0.429,0.774" fill="#fff"/></g></svg>
<span class="t" style="font-size:77.76px;font-weight:bold;color:#231f20;letter-spacing:2.5px;-webkit-text-stroke:4.5px #231f20;left:860.7px;top:118.1px;transform:scaleX(0.9781);">DOMAĆI TRGOVAČKI LANAC d.o.o.</span>
<span class="t" style="font-size:44.04px;font-weight:bold;color:#231f20;left:868.0px;top:237.3px;transform:scaleX(1.0111);">Milutina Milankovića 23, 11070 Novi Beograd</span>
<span class="t" style="font-size:44.04px;font-weight:bold;color:#6d6e71;left:868.0px;top:343.4px;transform:scaleX(1.0074);">Kontakt telefon:</span>
<span class="t" style="font-size:44.04px;font-weight:bold;color:#231f20;left:1431.5px;top:343.4px;transform:scaleX(1.0373);">011 220 1623</span>
<span class="t" style="font-size:44.04px;font-weight:bold;color:#6d6e71;left:868.0px;top:423.3px;transform:scaleX(0.9897);">Kontakt E-mail:</span>
<span class="t" style="font-size:44.04px;font-weight:bold;color:#231f20;left:1431.5px;top:423.3px;transform:scaleX(1.0014);">office@dtl.rs</span>
<span class="t" style="font-size:44.04px;font-weight:bold;color:#6d6e71;left:870.0px;top:512.7px;transform:scaleX(0.9856);">Web Stranica:</span>
<span class="t" style="font-size:44.04px;font-weight:bold;color:#231f20;left:1433.5px;top:512.7px;transform:scaleX(1.0362);">www.dtl.rs</span>
<span class="t" style="font-size:44.04px;font-weight:bold;color:#6d6e71;left:868.1px;top:591.0px;transform:scaleX(0.9695);">Facebook:</span>
<span class="t" style="font-size:44.04px;font-weight:bold;color:#231f20;left:1430.6px;top:591.0px;transform:scaleX(0.9473);">Domaci Trgovacki Lanac DTL</span>
<span class="t" style="font-size:65.99px;font-weight:bold;color:#6aab43;-webkit-text-stroke:1.6px #6aab43;left:465.8px;top:276.2px;transform:scaleX(0.9931);">DTL</span>
<span class="t" style="font-size:17.44px;font-weight:normal;color:#6aab43;left:468.4px;top:352.3px;transform:scaleX(1.0868);">DOMAĆI</span>
<span class="t" style="font-size:17.44px;font-weight:normal;color:#6aab43;left:469.5px;top:370.8px;transform:scaleX(1.0897);">TRGOVAČKI LANAC</span>
<span class="t" style="font-size:41.72px;font-weight:bold;color:#6d6e71;-webkit-text-stroke:0.8px #6d6e71;left:156.5px;top:768.2px;transform:scaleX(0.8928);">Generalni direktor:</span>
<span class="t" style="font-size:41.72px;font-weight:bold;color:#231f20;-webkit-text-stroke:0.8px #231f20;left:731.0px;top:768.2px;transform:scaleX(0.8503);">Obrad Popović</span>
<span class="t" style="font-size:41.72px;font-weight:bold;color:#6d6e71;-webkit-text-stroke:0.8px #6d6e71;left:156.5px;top:903.8px;transform:scaleX(0.8668);">Godina osnivanja u Srbiji:</span>
<span class="t" style="font-size:41.72px;font-weight:bold;color:#231f20;-webkit-text-stroke:0.8px #231f20;left:730.9px;top:903.8px;transform:scaleX(1.0008);">2011.</span>
<span class="t" style="font-size:41.72px;font-weight:bold;color:#6d6e71;-webkit-text-stroke:0.8px #6d6e71;left:155.6px;top:1042.3px;transform:scaleX(0.8788);">Broj objekata:</span>
<span class="t" style="font-size:41.72px;font-weight:bold;color:#231f20;-webkit-text-stroke:0.8px #231f20;left:730.9px;top:1042.3px;transform:scaleX(0.9691);">709</span>
<span class="t" style="font-size:41.72px;font-weight:bold;color:#6d6e71;-webkit-text-stroke:0.8px #6d6e71;left:155.6px;top:1155.2px;transform:scaleX(0.8762);">Broj planiranih novih objekata</span>
<span class="t" style="font-size:41.72px;font-weight:bold;color:#6d6e71;-webkit-text-stroke:0.8px #6d6e71;left:156.5px;top:1204.8px;transform:scaleX(0.8676);">do kraja godine:</span>
<span class="t" style="font-size:41.72px;font-weight:bold;color:#231f20;-webkit-text-stroke:0.8px #231f20;left:730.9px;top:1179.8px;transform:scaleX(0.9666);">20</span>
<span class="t" style="font-size:57.27px;font-weight:bold;color:#231f20;-webkit-text-stroke:1.6px #231f20;left:154.2px;top:1341.0px;transform:scaleX(1.0331);">Broj objekata prema formatima</span>
<span class="t" style="font-size:24.27px;font-weight:bold;color:#231f20;left:407.4px;top:1451.5px;transform:scaleX(0.9236);">Hipermarket</span>
<span class="t" style="font-size:24.27px;font-weight:bold;color:#231f20;left:427.6px;top:1489.5px;transform:scaleX(0.9356);">&gt;1500m²</span>
<span class="t" style="font-size:24.27px;font-weight:bold;color:#231f20;left:617.4px;top:1451.5px;transform:scaleX(0.9030);">Supermarket</span>
<span class="t" style="font-size:24.27px;font-weight:bold;color:#231f20;left:622.5px;top:1489.5px;transform:scaleX(0.9369);">301-1500m²</span>
<span class="t" style="font-size:24.27px;font-weight:bold;color:#231f20;left:821.0px;top:1451.5px;transform:scaleX(0.8924);">Velika trgovina</span>
<span class="t" style="font-size:24.27px;font-weight:bold;color:#231f20;left:842.4px;top:1489.5px;transform:scaleX(0.9325);">101-300m²</span>
<span class="t" style="font-size:24.27px;font-weight:bold;color:#231f20;left:1026.3px;top:1451.5px;transform:scaleX(0.8870);">Srednja trgovina</span>
<span class="t" style="font-size:24.27px;font-weight:bold;color:#231f20;left:1062.7px;top:1489.5px;transform:scaleX(0.9369);">40-100m²</span>
<span class="t" style="font-size:24.27px;font-weight:bold;color:#231f20;left:1246.7px;top:1451.5px;transform:scaleX(0.9133);">Mala trgovina</span>
<span class="t" style="font-size:24.27px;font-weight:bold;color:#231f20;left:1287.1px;top:1489.5px;transform:scaleX(0.9205);">&gt;40m²</span>
<span class="t" style="font-size:23.98px;font-weight:bold;color:#fff;left:218.9px;top:1567.9px;transform:scaleX(0.9038);">Beograd</span>
<span class="t" style="font-size:23.98px;font-weight:bold;color:#fff;left:212.2px;top:1661.9px;transform:scaleX(0.8913);">Vovjodina</span>
<span class="t" style="font-size:23.98px;font-weight:bold;color:#fff;left:185.5px;top:1737.3px;transform:scaleX(0.8991);">Južna i istočna</span>
<span class="t" style="font-size:23.98px;font-weight:bold;color:#fff;left:232.5px;top:1774.2px;transform:scaleX(0.9007);">Srbija</span>
<span class="t" style="font-size:23.98px;font-weight:bold;color:#fff;left:204.7px;top:1831.7px;transform:scaleX(0.9467);">Centralna i</span>
<span class="t" style="font-size:23.98px;font-weight:bold;color:#fff;left:185.5px;top:1868.1px;transform:scaleX(0.9073);">zapadna Srbija</span>
<span class="t" style="font-size:23.26px;font-weight:bold;color:#231f20;left:213.8px;top:1945.3px;transform:scaleX(0.9631);">UKUPNO</span>
<span class="t" style="font-size:49px;font-weight:bold;color:#fff;letter-spacing:1.2px;-webkit-text-stroke:0.8px #fff;left:461.8px;top:1554.0px;transform:scaleX(0.9400);">0</span>
<span class="t" style="font-size:49px;font-weight:bold;color:#fff;letter-spacing:1.2px;-webkit-text-stroke:0.8px #fff;left:672.3px;top:1554.0px;transform:scaleX(0.9400);">0</span>
<span class="t" style="font-size:49px;font-weight:bold;color:#fff;letter-spacing:1.2px;-webkit-text-stroke:0.8px #fff;left:886.3px;top:1554.0px;transform:scaleX(0.9400);">3</span>
<span class="t" style="font-size:49px;font-weight:bold;color:#fff;letter-spacing:1.2px;-webkit-text-stroke:0.8px #fff;left:1099.8px;top:1554.0px;transform:scaleX(0.9400);">0</span>
<span class="t" style="font-size:49px;font-weight:bold;color:#fff;letter-spacing:1.2px;-webkit-text-stroke:0.8px #fff;left:1307.3px;top:1554.0px;transform:scaleX(0.9400);">0</span>
<span class="t" style="font-size:49px;font-weight:bold;color:#fff;letter-spacing:1.2px;-webkit-text-stroke:0.8px #fff;left:461.8px;top:1648.0px;transform:scaleX(0.9400);">0</span>
<span class="t" style="font-size:49px;font-weight:bold;color:#fff;letter-spacing:1.2px;-webkit-text-stroke:0.8px #fff;left:659.4px;top:1648.0px;transform:scaleX(0.9400);">42</span>
<span class="t" style="font-size:49px;font-weight:bold;color:#fff;letter-spacing:1.2px;-webkit-text-stroke:0.8px #fff;left:858.7px;top:1648.0px;transform:scaleX(0.9400);">155</span>
<span class="t" style="font-size:49px;font-weight:bold;color:#fff;letter-spacing:1.2px;-webkit-text-stroke:0.8px #fff;left:1072.2px;top:1648.0px;transform:scaleX(0.9400);">150</span>
<span class="t" style="font-size:49px;font-weight:bold;color:#fff;letter-spacing:1.2px;-webkit-text-stroke:0.8px #fff;left:1307.3px;top:1648.0px;transform:scaleX(0.9400);">0</span>
<span class="t" style="font-size:49px;font-weight:bold;color:#fff;letter-spacing:1.2px;-webkit-text-stroke:0.8px #fff;left:461.8px;top:1742.0px;transform:scaleX(0.9400);">0</span>
<span class="t" style="font-size:49px;font-weight:bold;color:#fff;letter-spacing:1.2px;-webkit-text-stroke:0.8px #fff;left:659.0px;top:1742.0px;transform:scaleX(0.9400);">27</span>
<span class="t" style="font-size:49px;font-weight:bold;color:#fff;letter-spacing:1.2px;-webkit-text-stroke:0.8px #fff;left:872.5px;top:1742.0px;transform:scaleX(0.9400);">24</span>
<span class="t" style="font-size:49px;font-weight:bold;color:#fff;letter-spacing:1.2px;-webkit-text-stroke:0.8px #fff;left:1086.0px;top:1742.0px;transform:scaleX(0.9400);">84</span>
<span class="t" style="font-size:49px;font-weight:bold;color:#fff;letter-spacing:1.2px;-webkit-text-stroke:0.8px #fff;left:1307.3px;top:1742.0px;transform:scaleX(0.9400);">0</span>
<span class="t" style="font-size:49px;font-weight:bold;color:#fff;letter-spacing:1.2px;-webkit-text-stroke:0.8px #fff;left:461.8px;top:1836.0px;transform:scaleX(0.9400);">0</span>
<span class="t" style="font-size:49px;font-weight:bold;color:#fff;letter-spacing:1.2px;-webkit-text-stroke:0.8px #fff;left:659.0px;top:1836.0px;transform:scaleX(0.9400);">20</span>
<span class="t" style="font-size:49px;font-weight:bold;color:#fff;letter-spacing:1.2px;-webkit-text-stroke:0.8px #fff;left:873.0px;top:1836.0px;transform:scaleX(0.9400);">58</span>
<span class="t" style="font-size:49px;font-weight:bold;color:#fff;letter-spacing:1.2px;-webkit-text-stroke:0.8px #fff;left:1072.2px;top:1836.0px;transform:scaleX(0.9400);">146</span>
<span class="t" style="font-size:49px;font-weight:bold;color:#fff;letter-spacing:1.2px;-webkit-text-stroke:0.8px #fff;left:1307.3px;top:1836.0px;transform:scaleX(0.9400);">0</span>
<span class="t" style="font-size:49px;font-weight:bold;color:#231f20;letter-spacing:1.2px;-webkit-text-stroke:0.8px #231f20;left:461.8px;top:1930.0px;transform:scaleX(0.9400);">0</span>
<span class="t" style="font-size:49px;font-weight:bold;color:#231f20;letter-spacing:1.2px;-webkit-text-stroke:0.8px #231f20;left:659.0px;top:1930.0px;transform:scaleX(0.9400);">89</span>
<span class="t" style="font-size:49px;font-weight:bold;color:#231f20;letter-spacing:1.2px;-webkit-text-stroke:0.8px #231f20;left:859.6px;top:1930.0px;transform:scaleX(0.9400);">240</span>
<span class="t" style="font-size:49px;font-weight:bold;color:#231f20;letter-spacing:1.2px;-webkit-text-stroke:0.8px #231f20;left:1073.1px;top:1930.0px;transform:scaleX(0.9400);">380</span>
<span class="t" style="font-size:49px;font-weight:bold;color:#231f20;letter-spacing:1.2px;-webkit-text-stroke:0.8px #231f20;left:1307.3px;top:1930.0px;transform:scaleX(0.9400);">0</span>
<span class="t" style="font-size:71.66px;font-weight:bold;color:#ed1c24;left:1472.2px;top:1918.0px;transform:scaleX(0.9537);">709</span>
<span class="t" style="font-size:66.86px;font-weight:bold;color:#fff;-webkit-text-stroke:2px #fff;left:1632.6px;top:975.0px;transform:scaleX(1.0437);">347</span>
<span class="t" style="font-size:65.41px;font-weight:bold;color:#fff;-webkit-text-stroke:2px #fff;left:1719.4px;top:1177.2px;transform:scaleX(0.9413);">3</span>
<span class="t" style="font-size:66.13px;font-weight:bold;color:#fff;-webkit-text-stroke:2px #fff;left:1646.2px;top:1361.0px;transform:scaleX(1.0376);">224</span>
<span class="t" style="font-size:66.13px;font-weight:bold;color:#fff;-webkit-text-stroke:2px #fff;left:1964.7px;top:1363.7px;transform:scaleX(1.0249);">135</span>
<span class="t" style="font-size:37.35px;font-weight:bold;color:#231f20;font-style:italic;left:1911.1px;top:731.9px;transform:scaleX(0.9814);">Vojvodina</span>
<span class="t" style="font-size:37.35px;font-weight:bold;color:#231f20;font-style:italic;left:1914.9px;top:783.4px;transform:scaleX(0.9507);">Beograd</span>
<span class="t" style="font-size:37.35px;font-weight:bold;color:#231f20;font-style:italic;left:1912.0px;top:832.8px;transform:scaleX(0.9704);">Centralnozapadna Srbija</span>
<span class="t" style="font-size:37.35px;font-weight:bold;color:#231f20;font-style:italic;left:1912.0px;top:887.0px;transform:scaleX(0.9334);">Jugoistočna Srbija</span>
<span class="t" style="font-size:39.39px;font-weight:bold;color:#231f20;-webkit-text-stroke:0.7px #231f20;left:174.2px;top:2080.0px;transform:scaleX(0.9370);">Asortiman</span>
<span class="t" style="font-size:19.33px;font-weight:bold;color:#231f20;left:414.2px;top:2174.6px;transform:scaleX(0.9522);">Hipermarket</span>
<span class="t" style="font-size:19.33px;font-weight:bold;color:#231f20;left:431.2px;top:2198.5px;transform:scaleX(0.9556);">&gt;1500m²</span>
<span class="t" style="font-size:19.33px;font-weight:bold;color:#231f20;left:575.3px;top:2174.6px;transform:scaleX(0.9349);">Supermarket</span>
<span class="t" style="font-size:19.33px;font-weight:bold;color:#231f20;left:576.3px;top:2198.5px;transform:scaleX(1.0011);">301-1500m2</span>
<span class="t" style="font-size:19.33px;font-weight:bold;color:#231f20;left:727.5px;top:2174.6px;transform:scaleX(0.9364);">Velika trgovina</span>
<span class="t" style="font-size:19.33px;font-weight:bold;color:#231f20;left:742.0px;top:2198.5px;transform:scaleX(0.9987);">101-300m2</span>
<span class="t" style="font-size:19.33px;font-weight:bold;color:#231f20;left:920.5px;top:2149.9px;transform:scaleX(0.9275);">Srednja</span>
<span class="t" style="font-size:19.33px;font-weight:bold;color:#231f20;left:918.5px;top:2174.6px;transform:scaleX(0.9150);">trgovina</span>
<span class="t" style="font-size:19.33px;font-weight:bold;color:#231f20;left:909.5px;top:2198.5px;transform:scaleX(1.0071);">40-100m2</span>
<span class="t" style="font-size:19.33px;font-weight:bold;color:#231f20;left:1056.6px;top:2174.6px;transform:scaleX(0.9367);">Mala trgovina</span>
<span class="t" style="font-size:19.33px;font-weight:bold;color:#231f20;left:1086.5px;top:2198.5px;transform:scaleX(0.9669);">&gt;40m2</span>
<span class="t" style="font-size:27.03px;font-weight:bold;color:#231f20;left:198.5px;top:2247.2px;transform:scaleX(0.9826);">Broj SKU-a/</span>
<span class="t" style="font-size:27.03px;font-weight:bold;color:#231f20;left:209.0px;top:2275.2px;transform:scaleX(0.9507);">artikala po</span>
<span class="t" style="font-size:27.03px;font-weight:bold;color:#231f20;left:226.5px;top:2302.5px;transform:scaleX(0.9388);">formatu</span>
<span class="t" style="font-size:32.85px;font-weight:bold;color:#231f20;left:467.3px;top:2271.5px;transform:scaleX(1.1106);">-</span>
<span class="t" style="font-size:32.85px;font-weight:bold;color:#231f20;left:1108.7px;top:2271.5px;transform:scaleX(1.1106);">-</span>
<span class="t" style="font-size:32.85px;font-weight:bold;color:#231f20;left:589.5px;top:2271.5px;transform:scaleX(0.9988);">6.000</span>
<span class="t" style="font-size:32.85px;font-weight:bold;color:#231f20;left:752.9px;top:2271.5px;transform:scaleX(0.9778);">3.000</span>
<span class="t" style="font-size:32.85px;font-weight:bold;color:#231f20;left:913.9px;top:2271.5px;transform:scaleX(0.9772);">1.500</span>
<span class="t" style="font-size:37.65px;font-weight:bold;color:#231f20;-webkit-text-stroke:0.7px #231f20;left:173.0px;top:2411.8px;transform:scaleX(0.9683);">Udeo PL-a u celokupnom asortimanu</span>
<span class="t" style="font-size:39.39px;font-weight:bold;color:#231f20;-webkit-text-stroke:1.4px #231f20;left:1049.6px;top:2409.6px;transform:scaleX(0.8586);">%</span>
<span class="t" style="font-size:28px;font-weight:normal;color:#231f20;-webkit-text-stroke:0.4px #231f20;left:173.8px;top:2479.1px;transform:scaleX(1.0099);">numerički (iskazano u procentima od ukupnog broja</span>
<span class="t" style="font-size:28px;font-weight:normal;color:#231f20;-webkit-text-stroke:0.4px #231f20;left:173.8px;top:2508.1px;transform:scaleX(1.0120);">ulistanih proizvoda)</span>
<span class="t" style="font-size:37.3px;font-weight:bold;color:#231f20;-webkit-text-stroke:0.6px #231f20;left:1059.0px;top:2486.8px;transform:scaleX(0.8875);">5</span>
<span class="t" style="font-size:28px;font-weight:normal;color:#231f20;-webkit-text-stroke:0.4px #231f20;left:174.8px;top:2566.7px;transform:scaleX(1.0099);">vrednosno/prodaja (iskazano u procentima od total</span>
<span class="t" style="font-size:28px;font-weight:normal;color:#231f20;-webkit-text-stroke:0.4px #231f20;left:173.8px;top:2595.1px;transform:scaleX(1.0050);">prodaje u rsd)</span>
<span class="t" style="font-size:37.3px;font-weight:bold;color:#231f20;-webkit-text-stroke:0.6px #231f20;left:1058.3px;top:2573.7px;transform:scaleX(0.9334);">6</span>
<span class="t" style="font-size:40.55px;font-weight:bold;color:#231f20;-webkit-text-stroke:0.7px #231f20;left:165.1px;top:2708.2px;transform:scaleX(0.8975);">Broj zaposlenih</span>
<span class="t" style="font-size:31.98px;font-weight:normal;color:#231f20;-webkit-text-stroke:0.9px #231f20;left:447.6px;top:2715.3px;transform:scaleX(0.9627);">(na dan 31.12.2020.)</span>
<span class="t" style="font-size:34.5px;font-weight:bold;color:#231f20;-webkit-text-stroke:0.6px #231f20;left:1031.0px;top:2711.4px;transform:scaleX(1.0595);">6.600</span>
<span class="t" style="font-size:40.41px;font-weight:bold;color:#231f20;-webkit-text-stroke:0.7px #231f20;left:166.0px;top:2824.1px;transform:scaleX(0.8970);">Odnos domaće i uvežene robe (u procentima)</span>
<span class="t" style="font-size:36.5px;font-weight:bold;color:#77787b;-webkit-text-stroke:0.7px #77787b;left:828.8px;top:2885.2px;transform:scaleX(0.8659);">domaća</span>
<span class="t" style="font-size:36.5px;font-weight:bold;color:#77787b;-webkit-text-stroke:0.7px #77787b;left:822.5px;top:2937.6px;transform:scaleX(0.8855);">iz uvoza</span>
<span class="t" style="font-size:34.5px;font-weight:bold;color:#231f20;-webkit-text-stroke:0.6px #231f20;left:1054.2px;top:2886.1px;transform:scaleX(1.0846);">80</span>
<span class="t" style="font-size:34.5px;font-weight:bold;color:#231f20;-webkit-text-stroke:0.6px #231f20;left:1054.2px;top:2938.4px;transform:scaleX(1.0846);">20</span>
<span class="t" style="font-size:37.21px;font-weight:bold;color:#6d6e71;-webkit-text-stroke:0.7px #6d6e71;left:1451.9px;top:2165.2px;transform:scaleX(0.9132);">Zdraviji/organski kutak</span>
<span class="t" style="font-size:37.21px;font-weight:bold;color:#6d6e71;-webkit-text-stroke:0.7px #6d6e71;left:1451.1px;top:2248.2px;transform:scaleX(0.8651);">Pijaca</span>
<span class="t" style="font-size:37.21px;font-weight:bold;color:#6d6e71;-webkit-text-stroke:0.7px #6d6e71;left:1451.0px;top:2331.2px;transform:scaleX(0.8962);">Pekara</span>
<span class="t" style="font-size:37.21px;font-weight:bold;color:#6d6e71;-webkit-text-stroke:0.7px #6d6e71;left:1451.0px;top:2414.2px;transform:scaleX(0.8998);">Mesara</span>
<span class="t" style="font-size:37.21px;font-weight:bold;color:#6d6e71;-webkit-text-stroke:0.7px #6d6e71;left:1451.9px;top:2497.2px;transform:scaleX(0.8650);">Gotova jela</span>
<span class="t" style="font-size:37.21px;font-weight:bold;color:#6d6e71;-webkit-text-stroke:0.7px #6d6e71;left:1451.9px;top:2580.2px;transform:scaleX(0.8761);">Samouslužne kase</span>
<span class="t" style="font-size:37.21px;font-weight:bold;color:#6d6e71;-webkit-text-stroke:0.7px #6d6e71;left:1451.0px;top:2663.2px;transform:scaleX(0.9044);">Program lojalnosti</span>
<span class="t" style="font-size:37.21px;font-weight:bold;color:#6d6e71;-webkit-text-stroke:0.7px #6d6e71;left:1451.0px;top:2746.2px;transform:scaleX(0.8887);">Kartica lojalnosti za kupce</span>
<span class="t" style="font-size:37.21px;font-weight:bold;color:#6d6e71;-webkit-text-stroke:0.7px #6d6e71;left:1451.9px;top:2829.2px;transform:scaleX(0.8742);">Online prodaja</span>
<span class="t" style="font-size:37.21px;font-weight:bold;color:#6d6e71;-webkit-text-stroke:0.7px #6d6e71;left:1451.0px;top:2912.2px;transform:scaleX(0.9096);">Liflet</span>
<span class="t" style="font-size:38.23px;font-weight:bold;color:#231f20;-webkit-text-stroke:0.7px #231f20;left:153.8px;top:3038.3px;transform:scaleX(0.9158);">O kompaniji:</span>
<span class="t" style="font-size:30px;font-weight:normal;color:#231f20;-webkit-text-stroke:0.5px #231f20;left:155.4px;top:3101.3px;transform:scaleX(0.9769);">Za DTL, 2021. godina je godina velikog jubileja. Naime, pre tačno 10 godina smo osnovali Domaći trgovinski lanac koji okuplja 13 članica.</span>
<span class="t" style="font-size:30px;font-weight:normal;color:#231f20;-webkit-text-stroke:0.5px #231f20;left:153.5px;top:3145.7px;transform:scaleX(0.9804);">Naša ideja je bila da okupimo ljude koji dele istu viziju kako bismo zajedno nastupili na tržištu. Zajednička nabavka, od koje smo počeli, strateški je povezala sve</span>
<span class="t" style="font-size:30px;font-weight:normal;color:#231f20;-webkit-text-stroke:0.5px #231f20;left:154.5px;top:3179.0px;transform:scaleX(0.9900);">članice, a kupcima pružila moderan i kvalitetan model svakodnevne kupovine po povoljnijim cenama i bolju uslugu. Od samog početka želeli smo i da pomognemo</span>
<span class="t" style="font-size:30px;font-weight:normal;color:#231f20;-webkit-text-stroke:0.5px #231f20;left:153.5px;top:3212.2px;transform:scaleX(0.9968);">malim proizvođačima, da tako pokrenemo privredni razvoj kraja, ali i kreiramo sopstvene proizvode prema potrebama potrošača.</span>
<span class="t" style="font-size:30px;font-weight:normal;color:#231f20;-webkit-text-stroke:0.5px #231f20;left:153.5px;top:3258.8px;transform:scaleX(0.9775);">Naše članice dolaze iz svih krajeva Srbije i u tome je naša moć. Poznajemo ljude za koje radimo, poznajemo one sa kojima sarađujemo, njihove želje i potrebe i zato</span>
<span class="t" style="font-size:30px;font-weight:normal;color:#231f20;-webkit-text-stroke:0.5px #231f20;left:154.5px;top:3291.3px;transform:scaleX(0.9839);">ponosno ističemo činjenicu da u toku samo jednog dana, više od 250.000 zadovoljnih potrošača obavi kupovinu u DTL članicama.</span>
<span class="t" style="font-size:30px;font-weight:normal;color:#231f20;-webkit-text-stroke:0.5px #231f20;left:153.5px;top:3337.2px;transform:scaleX(0.9905);">Povodom jubileja, predstavili smo i naš novi vizuelni identitet i jasnu želju da i u budućnosti pomeramo granice. Dobro došli u DTL!</span>
</div></body></html>
